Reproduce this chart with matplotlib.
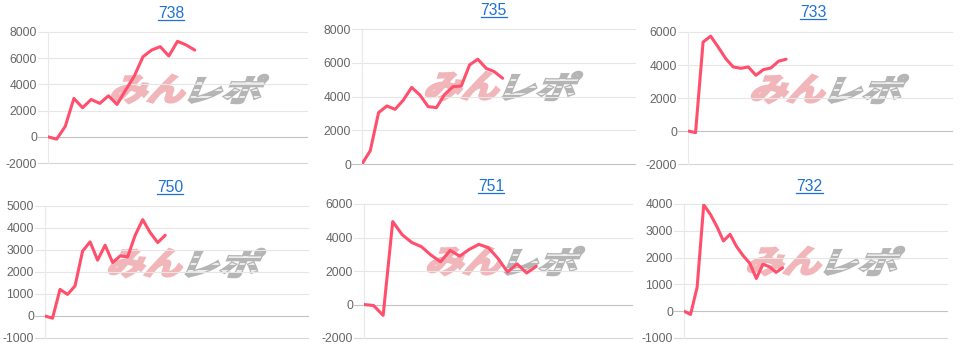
import numpy as np
import matplotlib
matplotlib.use("Agg")
import matplotlib.pyplot as plt
from matplotlib.textpath import TextPath
from matplotlib.patches import PathPatch
from matplotlib.font_manager import FontProperties
from matplotlib.transforms import Affine2D, IdentityTransform
from matplotlib.lines import Line2D

plt.rcParams['font.family'] = ['Liberation Sans', 'DejaVu Sans']

# panel titles (machine numbers)
titles = ["738", "735", "733", "750", "751", "732"]

# cumulative difference per game
s738 = [0, -180, 800, 2930, 2220, 2850, 2550, 3130, 2470, 3570, 4640, 6110, 6620, 6880, 6170, 7290, 7010, 6620]
s735 = [0, 790, 3040, 3440, 3240, 3790, 4540, 4090, 3400, 3340, 4130, 4580, 4620, 5870, 6210, 5670, 5470, 5080]
s733 = [0, -100, 5390, 5750, 5090, 4390, 3880, 3800, 3880, 3380, 3720, 3820, 4230, 4350]
s750 = [0, -100, 1210, 980, 1370, 2950, 3370, 2540, 3220, 2430, 2730, 2690, 3670, 4380, 3790, 3340, 3670]
s751 = [0, -60, -650, 4950, 4160, 3700, 3450, 2950, 2550, 3230, 2890, 3290, 3590, 3390, 2750, 1940, 2420, 1880, 2280]
s732 = [0, -120, 900, 3970, 3620, 3160, 2620, 2870, 2410, 2070, 1790, 1220, 1750, 1660, 1450, 1620]
series = [s738, s735, s733, s750, s751, s732]

# y range (min, max, step) and number of x slots for each panel
yranges = [(-2000, 8000, 2000), (0, 8000, 2000), (-2000, 6000, 2000),
           (-1000, 5000, 1000), (-2000, 6000, 2000), (-1000, 4000, 1000)]
xslots = [30, 33, 35, 35, 28, 40]

W, H = 960, 347
# plot boxes in pixels: left, top, right, bottom
boxes = [(48, 32, 307, 163), (362, 29, 635, 164), (688, 32, 952, 164),
         (45, 206, 308, 338), (364, 204, 632, 338), (684, 204, 947, 338)]
# title centre x, baseline y, underline y (pixels from top)
title_pos = [(171, 17.7, 19.5), (493.7, 15, 17), (813, 17.3, 19.2),
             (170, 191.7, 193.6), (491, 191, 193), (809.5, 191, 193)]

line_c = "#ff4f6d"
grid_c = "#e6e6e6"
zero_c = "#c2c2c2"
tick_px = 10

fp = FontProperties(family="Noto Sans CJK JP", weight="bold")


def logo_part(ax, text, x0, y0, w, h, color, slant=18, stripes=()):
    # text as path, slanted and stretched into a pixel box (x0, y0 = top left)
    p = TextPath((0, 0), text, size=1, prop=fp)
    p = p.transformed(Affine2D().skew_deg(slant, 0))
    bb = p.get_extents()
    tr = (Affine2D().translate(-bb.x0, -bb.y0)
          .scale(w / bb.width / W, h / bb.height / H)
          .translate(x0 / W, 1 - (y0 + h) / H)) + fig.transFigure
    patch = PathPatch(p, transform=tr, facecolor=color, edgecolor=color,
                      lw=1.8, joinstyle="miter", zorder=0.5)
    ax.add_patch(patch)
    # white speed stripes cut through the glyphs
    for fy in stripes:
        yy = 1 - (y0 + fy * h) / H
        s = Line2D([(x0 - 5) / W, (x0 + w + 5) / W], [yy, yy], color="white",
                   lw=1.1, transform=fig.transFigure, zorder=0.6)
        ax.add_line(s)
        s.set_transform(fig.transFigure)
        s.set_clip_path(patch)
    return patch


fig = plt.figure(figsize=(W / 100, H / 100), dpi=100)
title_texts = []

for i in range(6):
    l, t, r, b = boxes[i]
    ax = fig.add_axes([l / W, 1 - b / H, (r - l) / W, (b - t) / H])
    lo, hi, step = yranges[i]
    vals = series[i]
    ax.set_xlim(0, xslots[i])
    ax.set_ylim(lo, hi)
    ticks = np.arange(lo, hi + 1, step)
    ax.set_yticks(ticks)
    ax.set_yticklabels([str(v) for v in ticks])
    ax.set_xticks([])
    for sp in ["top", "right", "bottom"]:
        ax.spines[sp].set_visible(False)
    ax.spines["left"].set_color("#e9e9e9")
    ax.spines["left"].set_linewidth(0.8)
    ax.tick_params(axis="y", length=0, pad=tick_px * 0.72 + 0.8,
                   labelsize=8.7, labelcolor="#666666")
    ax.patch.set_alpha(0)

    ext = tick_px / (r - l)
    for v in ticks:
        c = zero_c if v == 0 else grid_c
        if v == lo and v != 0:
            c = "#d6d6d6"
        ax.axhline(v, xmin=-ext, xmax=1, color=c, lw=0.8, clip_on=False, zorder=1)

    # watermark
    logo_part(ax, "みん", l + 64, t + 43, 73, 28, "#f1b6b9")
    logo_part(ax, "レポ", l + 141, t + 43, 79, 28, "#b5b5b5", stripes=(0.3, 0.55, 0.8))

    ax.plot(range(len(vals)), vals, color=line_c, lw=2.2,
            solid_joinstyle="round", solid_capstyle="round", zorder=3)

    xc, base, ul = title_pos[i]
    tt = fig.text(xc / W, 1 - base / H, titles[i], ha="center", va="baseline",
                  fontsize=11.3, color="#1f72d4")
    title_texts.append((tt, ul))

fig.canvas.draw()
rend = fig.canvas.get_renderer()
for tt, ul in title_texts:
    bb = tt.get_window_extent(rend)
    fig.add_artist(Line2D([bb.x0, bb.x1], [H - ul, H - ul], color="#1f72d4",
                          lw=0.9, transform=IdentityTransform()))

fig.savefig("out.png", dpi=100)
